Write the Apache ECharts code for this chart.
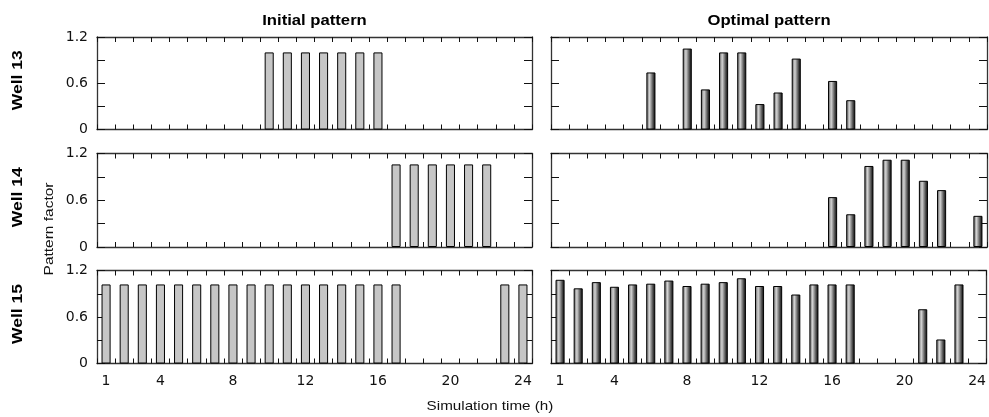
<!DOCTYPE html>
<html>
<head>
<meta charset="utf-8">
<script src="https://cdn.jsdelivr.net/npm/echarts@6/dist/echarts.min.js"></script>
<style>html,body{margin:0;padding:0;background:#fff}#c{width:989px;height:417px}</style>
</head>
<body>
<div id="c"></div>
<script>
const hours = ['1','2','3','4','5','6','7','8','9','10','11','12','13','14','15','16','17','18','19','20','21','22','23','24'];
const shownHourLabels = ['1','4','8','12','16','20','24'];
const yTickLabels = ['0','0.6','1.2'];
const columnTitles = ['Initial pattern','Optimal pattern'];
const rowTitles = ['Well 13','Well 14','Well 15'];
const yAxisTitle = 'Pattern factor';
const xAxisTitle = 'Simulation time (h)';

const _ = null;
const initial13 = [_,_,_,_,_,_,_,_,_,1.0,1.0,1.0,1.0,1.0,1.0,1.0,_,_,_,_,_,_,_,_];
const initial14 = [_,_,_,_,_,_,_,_,_,_,_,_,_,_,_,_,1.06,1.06,1.06,1.06,1.06,1.06,_,_];
const initial15 = [1.02,1.02,1.02,1.02,1.02,1.02,1.02,1.02,1.02,1.02,1.02,1.02,1.02,1.02,1.02,1.02,1.02,_,_,_,_,_,1.02,1.02];
const optimal13 = [_,_,_,_,_,0.74,_,1.05,0.52,1.0,1.0,0.33,0.48,0.92,_,0.63,0.38,_,_,_,_,_,_,_];
const optimal14 = [_,_,_,_,_,_,_,_,_,_,_,_,_,_,_,0.64,0.42,1.04,1.12,1.12,0.85,0.73,_,0.40];
const optimal15 = [1.08,0.97,1.05,0.99,1.02,1.03,1.07,1.0,1.03,1.05,1.10,1.0,1.0,0.89,1.02,1.02,1.02,_,_,_,0.70,0.31,1.02,_];

const panels = [
  [initial13, optimal13],
  [initial14, optimal14],
  [initial15, optimal15]
];

const chart = echarts.init(document.getElementById('c'));
const FONT = '"DejaVu Sans", "Liberation Sans", Arial, sans-serif';
const TFONT = '"Liberation Sans", Arial, Helvetica, sans-serif';
const lineCol = '#333333';
const gridTops = [37, 153.5, 270.5];
const gridHeights = [92.5, 93.5, 93];
const colLeft = [97, 551];
const colWidth = [435, 436];

const grids = [], xAxes = [], yAxes = [], series = [];
const optGrad = new echarts.graphic.LinearGradient(0, 0, 1, 0, [
  {offset: 0, color: '#555555'},
  {offset: 0.35, color: '#d4d4d4'},
  {offset: 0.75, color: '#4a4a4a'},
  {offset: 1, color: '#050505'}
]);

for (let r = 0; r < 3; r++) {
  for (let c = 0; c < 2; c++) {
    const gi = grids.length;
    grids.push({left: colLeft[c], top: gridTops[r], width: colWidth[c], height: gridHeights[r], show: false});
    const base = {
      type: 'category', data: hours, gridIndex: gi, boundaryGap: true,
      axisLine: {show: true, onZero: false, lineStyle: {color: lineCol, width: 1.3}},
      axisTick: {show: true, inside: true, length: 5, interval: 0, lineStyle: {color: '#111', width: 1}},
      splitLine: {show: false}
    };
    xAxes.push(Object.assign({}, base, {
      position: 'bottom',
      axisLabel: {
        show: r === 2, interval: 0, margin: 11, color: '#111', fontSize: 14, fontFamily: FONT,
        formatter: v => shownHourLabels.includes(v) ? v : ''
      }
    }));
    xAxes.push(Object.assign({}, base, {position: 'top', axisLabel: {show: false}}));
    const ybase = {
      type: 'value', gridIndex: gi, min: 0, max: 1.2, interval: 0.3,
      axisLine: {show: true, lineStyle: {color: lineCol, width: 1.3}},
      axisTick: {show: true, inside: true, length: 8, lineStyle: {color: '#111', width: 1}},
      splitLine: {show: false}
    };
    yAxes.push(Object.assign({}, ybase, {
      position: 'left',
      axisLabel: {
        show: c === 0, color: '#111', fontSize: 14, fontFamily: FONT, margin: 9,
        formatter: v => {
          const s = String(Math.round(v * 10) / 10);
          return yTickLabels.includes(s) ? s : '';
        }
      }
    }));
    yAxes.push(Object.assign({}, ybase, {position: 'right', axisLabel: {show: false}}));
    series.push({
      type: 'bar', xAxisIndex: gi * 2, yAxisIndex: gi * 2, data: panels[r][c],
      barWidth: '50%', animation: false,
      itemStyle: {
        color: c === 0 ? '#c6c6c6' : optGrad,
        borderColor: '#000', borderWidth: 1
      }
    });
  }
}

const graphics = [];
columnTitles.forEach((t, c) => {
  graphics.push({type: 'text', x: colLeft[c] + colWidth[c] / 2, y: 21, scaleX: 1.19,
    style: {text: t, font: 'bold 14px ' + TFONT, fill: '#000', textAlign: 'center', textVerticalAlign: 'middle'}});
});
rowTitles.forEach((t, r) => {
  graphics.push({type: 'text', x: 18, y: gridTops[r] + gridHeights[r] / 2 - 3, rotation: Math.PI / 2, scaleX: 1.25,
    style: {text: t, font: 'bold 14px ' + TFONT, fill: '#000', textAlign: 'center', textVerticalAlign: 'middle'}});
});
graphics.push({type: 'text', x: 49, y: 229, rotation: Math.PI / 2, scaleX: 1.19,
  style: {text: yAxisTitle, font: '13px ' + TFONT, fill: '#111', textAlign: 'center', textVerticalAlign: 'middle'}});
graphics.push({type: 'text', x: 490, y: 406, scaleX: 1.17,
  style: {text: xAxisTitle, font: '13px ' + TFONT, fill: '#111', textAlign: 'center', textVerticalAlign: 'middle'}});

chart.setOption({
  animation: false,
  backgroundColor: '#fff',
  grid: grids, xAxis: xAxes, yAxis: yAxes, series: series,
  graphic: graphics
});
</script>
</body>
</html>
